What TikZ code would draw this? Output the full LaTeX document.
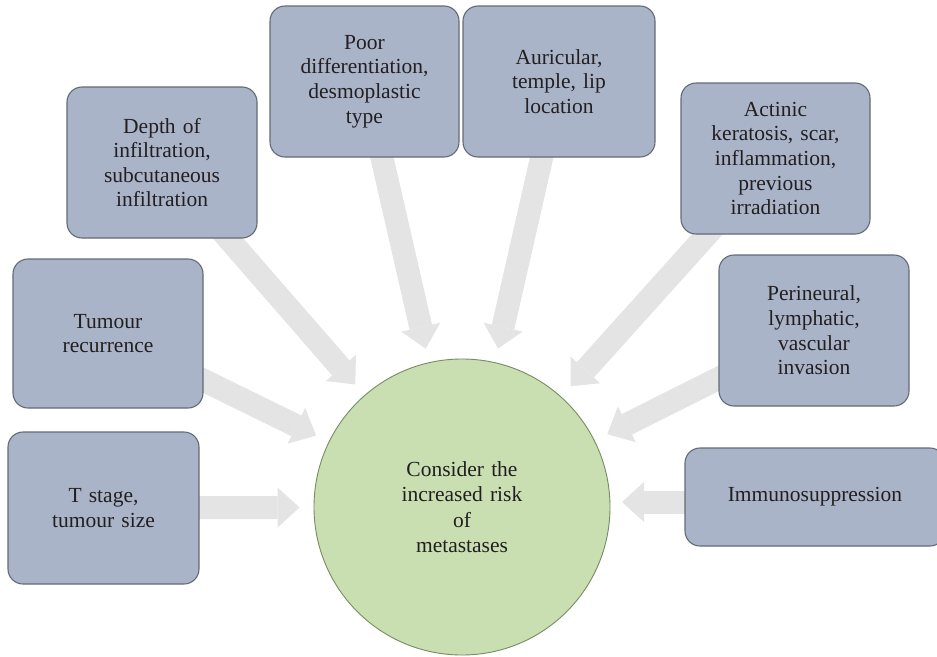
\documentclass[tikz,border=0pt]{standalone}
\usepackage{fontspec}
\setmainfont{Liberation Serif}
\usetikzlibrary{arrows.meta}
\pgfdeclarelayer{bg}
\pgfsetlayers{bg,main}
\definecolor{boxfill}{RGB}{170,180,200}
\definecolor{boxline}{RGB}{100,106,118}
\definecolor{circfill}{RGB}{201,223,178}
\definecolor{circline}{RGB}{118,140,98}
\definecolor{arrfill}{RGB}{228,228,228}
\definecolor{txt}{RGB}{35,31,32}
\begin{document}
\begin{tikzpicture}[x=1pt,y=-1pt,
  factor/.style={draw=boxline, fill=boxfill, line width=1.1pt, rounded corners=15pt,
    minimum width=190pt, minimum height=151pt, text width=184pt, align=center,
    inner sep=0pt, font=\fontsize{21.5}{24.6}\selectfont, text=txt},
  hub/.style={circle, draw=circline, fill=circfill, line width=0.9pt, minimum size=296pt,
    inner sep=0pt, text width=200pt, align=center, font=\fontsize{21.5}{25.3}\selectfont, text=txt},
  blockarrow/.style={draw=arrfill, line width=23pt,
    -{Triangle[width=40pt,length=22pt,line width=0pt]}, shorten >=14pt}
]
\clip (0,0) rectangle (937,656);
\node[hub] (c) at (462,507) {Consider the\\increased risk\\of\\metastases};
\node[factor, minimum width=191pt, minimum height=152pt] (t) at (103.5,508) {T stage,\\tumour size};
\node[factor, minimum height=149pt] (r) at (108,333.5) {Tumour\\recurrence};
\node[factor] (d) at (162,162.5) {Depth of\\infiltration,\\subcutaneous\\infiltration};
\node[factor, minimum width=189pt] (p) at (364.5,81.5) {Poor\\differentiation,\\desmoplastic\\type};
\node[factor, minimum width=192pt] (a) at (559,81.5) {Auricular,\\temple, lip\\location};
\node[factor, minimum width=189pt] (k) at (775.5,158.5) {Actinic\\keratosis, scar,\\inflammation,\\previous\\irradiation};
\node[factor] (v) at (814,330.5) {Perineural,\\lymphatic,\\vascular\\invasion};
\node[factor, minimum width=260pt, minimum height=98pt, text width=250pt] (i) at (815,497) {Immunosuppression};
\coordinate (itip) at (622,502);
\begin{pgfonlayer}{bg}
\draw[blockarrow] (t.center) -- (c);
\draw[blockarrow] (r.center) -- (c);
\draw[blockarrow] (d.center) -- (c);
\draw[blockarrow] (p.center) -- (c);
\draw[blockarrow] (a.center) -- (c);
\draw[blockarrow] (k.center) -- (c);
\draw[blockarrow] (v.center) -- (c);
\draw[blockarrow, shorten >=0pt] (i.center |- itip) -- (itip);
\end{pgfonlayer}
\end{tikzpicture}
\end{document}
